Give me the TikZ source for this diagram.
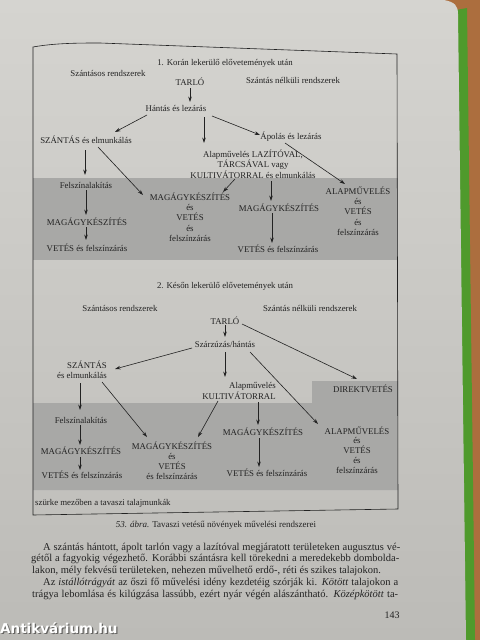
\documentclass[tikz,border=0pt]{standalone}
\usepackage{fontspec}
\setmainfont{Liberation Serif}
\newfontfamily\wmfont{DejaVu Sans}
\usetikzlibrary{arrows.meta,calc}
\definecolor{ink}{HTML}{222222}
\definecolor{pagetop}{HTML}{D5D4D0}
\definecolor{pagebot}{HTML}{BCBBB7}
\definecolor{band}{HTML}{A8A8A6}
\definecolor{wood}{HTML}{AC6E3E}
\definecolor{cover}{HTML}{4F9A2C}
\begin{document}
\begin{tikzpicture}[x=1pt,y=-1pt,
  lbl/.style={inner sep=0pt, font=\fontsize{8.8}{10.3}\selectfont, text=ink, align=center},
  arr/.style={draw=ink, line width=0.6pt, -{Stealth[length=5.5pt,width=3.6pt]}},
  bodyline/.style={inner sep=0pt, anchor=base west, font=\fontsize{10.5}{11.8}\selectfont, text=ink},
  captext/.style={inner sep=0pt, font=\fontsize{9}{10}\selectfont, text=ink}
]
\useasboundingbox (0,0) rectangle (480,640);
% background: table, cover, page
\fill[wood] (0,0) rectangle (480,640);
\fill[cover] (456,10) -- (467,8) -- (475,640) -- (464,640) -- cycle;
\shade[top color=pagetop, bottom color=pagebot]
  (0,0) -- (444,0) .. controls (455,2) and (458,6) .. (458,14) -- (466,640) -- (0,640) -- cycle;
% grey fields
\fill[band] (33,178) rectangle (398,260);
\fill[band] (33,403) -- (312,403) -- (312,381) -- (398,381) -- (398,490) -- (33,490) -- cycle;
% frame
\draw[ink, line width=0.6pt] (33,47) .. controls (55,43) and (80,43) .. (100,43) -- (397,54) -- (398,509) -- (33,515) -- cycle;

% ---- section 1
\node[lbl] (t1) at (225,63) {1. Korán lekerülő elővetemények után};
\node[lbl] (sz1) at (108,73) {Szántásos rendszerek};
\node[lbl] (nsz1) at (293,80) {Szántás nélküli rendszerek};
\node[lbl] (tarlo1) at (190,82) {TARLÓ};
\node[lbl] (hantas1) at (176,108) {Hántás és lezárás};
\node[lbl] (szantas1) at (86,140) {SZÁNTÁS és elmunkálás};
\node[lbl] (apolas1) at (291,137) {Ápolás és lezárás};
\node[lbl] (alap1) at (253,164) {Alapművelés LAZÍTÓVAL,\\TÁRCSÁVAL vagy\\KULTIVÁTORRAL és elmunkálás};
\node[lbl] (felsz1) at (86,185) {Felszínalakítás};
\node[lbl] (magl1) at (87,222) {MAGÁGYKÉSZÍTÉS};
\node[lbl] (vetl1) at (87,248) {VETÉS és felszínzárás};
\node[lbl] (magm1) at (190,217) {MAGÁGYKÉSZÍTÉS\\és\\VETÉS\\és\\felszínzárás};
\node[lbl] (magr1) at (279,208) {MAGÁGYKÉSZÍTÉS};
\node[lbl] (vetr1) at (278,249) {VETÉS és felszínzárás};
\node[lbl] (alapr1) at (358,211) {ALAPMŰVELÉS\\és\\VETÉS\\és\\felszínzárás};

\draw[arr] ($(tarlo1)+(0,6)$) -- ($(hantas1)+(14,-6)$);
\draw[arr] ($(hantas1)+(-29,7)$) -- ($(szantas1)+(29,-8)$);
\draw[arr] ($(hantas1)+(28,9)$) -- ($(alap1)+(-49,-21)$);
\draw[arr] ($(hantas1)+(36,8)$) -- ($(apolas1)+(-31,-2)$);
\draw[arr] ($(szantas1)+(-1,10)$) -- ($(felsz1)+(-1,-10)$);
\draw[arr] ($(szantas1)+(12,7)$) -- ($(magm1)+(-47,-22)$);
\draw[arr] ($(alap1)+(-18,15)$) -- ($(magm1)+(33,-25)$);
\draw[arr] ($(alap1)+(18,17)$) -- ($(magr1)+(-8,-7)$);
\draw[arr] ($(apolas1)+(-6,6)$) -- ($(alapr1)+(-13,-27)$);
\draw[arr] ($(felsz1)+(0,5)$) -- ($(magl1)+(-1,-7)$);
\draw[arr] ($(magl1)+(-1,5)$) -- ($(vetl1)+(-1,-8)$);
\draw[arr] ($(magr1)+(-7,5)$) -- ($(vetr1)+(-6,-6)$);

% ---- section 2
\node[lbl] (t2) at (225,286) {2. Későn lekerülő elővetemények után};
\node[lbl] (sz2) at (120,308) {Szántásos rendszerek};
\node[lbl] (nsz2) at (310,308) {Szántás nélküli rendszerek};
\node[lbl] (tarlo2) at (225,321) {TARLÓ};
\node[lbl] (szarz2) at (225,344) {Szárzúzás/hántás};
\node[lbl,align=right] (szantas2) at (82,370) {SZÁNTÁS\\és elmunkálás};
\node[lbl,align=right] (alap2) at (239,391) {Alapművelés\\KULTIVÁTORRAL};
\node[lbl] (direkt2) at (363,389) {DIREKTVETÉS};
\node[lbl] (felsz2) at (81,420) {Felszínalakítás};
\node[lbl] (magl2) at (81,451) {MAGÁGYKÉSZÍTÉS};
\node[lbl] (vetl2) at (82,475) {VETÉS és felszínzárás};
\node[lbl, font=\fontsize{8.8}{10}\selectfont] (magm2) at (172,461) {MAGÁGYKÉSZÍTÉS\\és\\VETÉS\\és felszínzárás};
\node[lbl] (magr2) at (263,432) {MAGÁGYKÉSZÍTÉS};
\node[lbl] (vetr2) at (267,473) {VETÉS és felszínzárás};
\node[lbl, font=\fontsize{8.8}{9.8}\selectfont] (alapr2) at (357,450) {ALAPMŰVELÉS\\és\\VETÉS\\és\\felszínzárás};
\node[lbl,anchor=west] (legend) at (35,503) {szürke mezőben a tavaszi talajmunkák};

\draw[arr] ($(tarlo2)+(0,4)$) -- ($(szarz2)+(0,-7)$);
\draw[arr] ($(tarlo2)+(17,3)$) -- ($(direkt2)+(-6,-10)$);
\draw[arr] ($(szarz2)+(-33,4)$) -- ($(szantas2)+(33,-1)$);
\draw[arr] ($(szarz2)+(0,8)$) -- ($(alap2)+(-14,-14)$);
\draw[arr] ($(szarz2)+(25,8)$) -- ($(alapr2)+(-39,-26)$);
\draw[arr] ($(szantas2)+(-2,13)$) -- ($(felsz2)+(-1,-10)$);
\draw[arr] ($(szantas2)+(20,12)$) -- ($(magm2)+(-25,-24)$);
\draw[arr] ($(alap2)+(-21,10)$) -- ($(magm2)+(26,-24)$);
\draw[arr] ($(alap2)+(19,11)$) -- ($(magr2)+(-5,-7)$);
\draw[arr] ($(felsz2)+(-1,5)$) -- ($(magl2)+(-1,-6)$);
\draw[arr] ($(magl2)+(-1,6)$) -- ($(vetl2)+(-2,-5)$);
\draw[arr] ($(magr2)+(-4,6)$) -- ($(vetr2)+(-8,-6)$);

% ---- caption, body text, page number
\node[captext] (caption) at (216,525) {\textit{53. ábra.} Tavaszi vetésű növények művelési rendszerei};
\node[bodyline] (l1) at (43,550) {\hbox to 357pt{A szántás hántott, ápolt tarlón vagy a lazítóval megjáratott területeken augusztus vé-}};
\node[bodyline] (l2) at (31,561.8) {\hbox to 368pt{gétől a fagyokig végezhető. Korábbi szántásra kell törekedni a meredekebb dombolda-}};
\node[bodyline] (l3) at (32,573.6) {lakon, mély fekvésű területeken, nehezen művelhető erdő-, réti és szikes talajokon.};
\node[bodyline] (l4) at (43,585.4) {\hbox to 355pt{Az \textit{istállótrágyát} az őszi fő művelési idény kezdetéig szórják ki. \textit{Kötött} talajokon a}};
\node[bodyline] (l5) at (32,597.2) {\hbox to 366pt{trágya lebomlása és kilúgzása lassúbb, ezért nyár végén alászántható. \textit{Középkötött} ta-}};
\node[inner sep=0pt, font=\fontsize{10}{11}\selectfont, text=ink] (pageno) at (392,615) {143};

% ---- watermark
\node[inner sep=0pt, anchor=west, font=\wmfont\bfseries\fontsize{13.5}{14}\selectfont, text=black, opacity=0.45] (wmshadow) at (1.2,629.2) {Antikvárium.hu};
\node[inner sep=0pt, anchor=west, font=\wmfont\bfseries\fontsize{13.5}{14}\selectfont, text=white] (wm) at (0,628) {Antikvárium.hu};
\end{tikzpicture}
\end{document}
